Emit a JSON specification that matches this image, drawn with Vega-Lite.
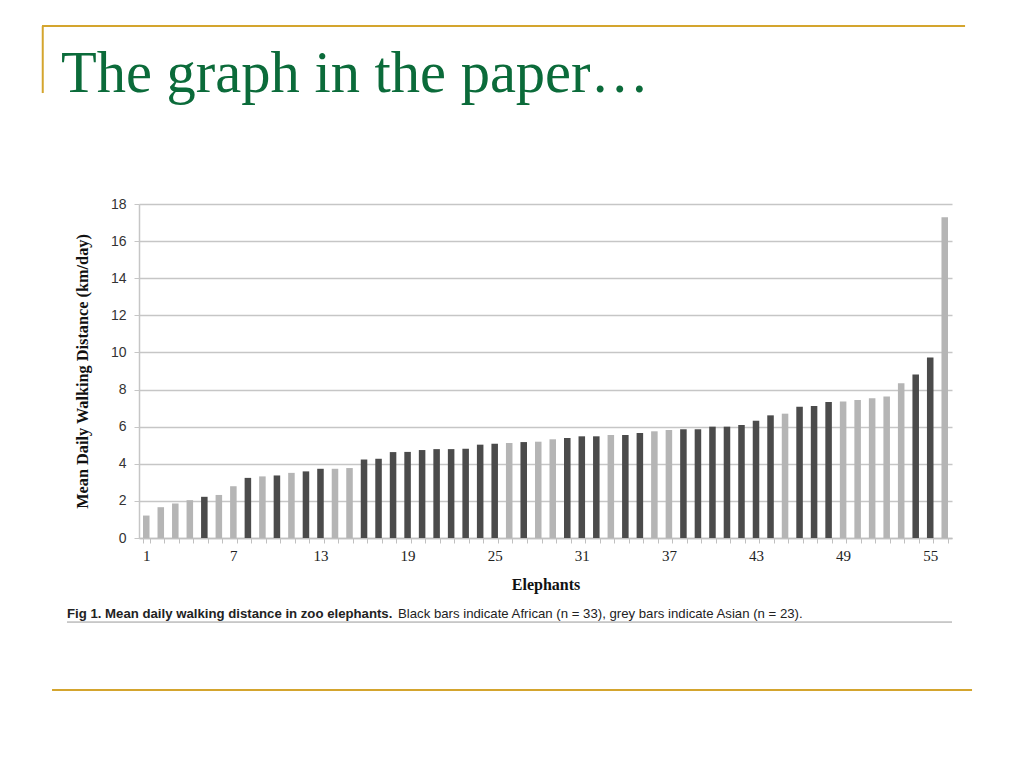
{
  "$schema": "https://vega.github.io/schema/vega-lite/v6.json",
  "width": 813,
  "height": 334,
  "autosize": {"type": "none"},
  "padding": {"left": 139, "top": 204, "right": 72, "bottom": 230},
  "background": "white",
  "config": {"view": {"stroke": null}},
  "resolve": {"scale": {"x": "independent", "y": "independent"}},
  "layer": [
    {
      "data": {
        "values": [
          {"elephant": 1, "distance": 1.21, "species": "Asian"},
          {"elephant": 2, "distance": 1.66, "species": "Asian"},
          {"elephant": 3, "distance": 1.86, "species": "Asian"},
          {"elephant": 4, "distance": 2.04, "species": "Asian"},
          {"elephant": 5, "distance": 2.22, "species": "African"},
          {"elephant": 6, "distance": 2.32, "species": "Asian"},
          {"elephant": 7, "distance": 2.79, "species": "Asian"},
          {"elephant": 8, "distance": 3.24, "species": "African"},
          {"elephant": 9, "distance": 3.32, "species": "Asian"},
          {"elephant": 10, "distance": 3.37, "species": "African"},
          {"elephant": 11, "distance": 3.51, "species": "Asian"},
          {"elephant": 12, "distance": 3.59, "species": "African"},
          {"elephant": 13, "distance": 3.73, "species": "African"},
          {"elephant": 14, "distance": 3.73, "species": "Asian"},
          {"elephant": 15, "distance": 3.77, "species": "Asian"},
          {"elephant": 16, "distance": 4.23, "species": "African"},
          {"elephant": 17, "distance": 4.27, "species": "African"},
          {"elephant": 18, "distance": 4.63, "species": "African"},
          {"elephant": 19, "distance": 4.64, "species": "African"},
          {"elephant": 20, "distance": 4.74, "species": "African"},
          {"elephant": 21, "distance": 4.79, "species": "African"},
          {"elephant": 22, "distance": 4.79, "species": "African"},
          {"elephant": 23, "distance": 4.81, "species": "African"},
          {"elephant": 24, "distance": 5.03, "species": "African"},
          {"elephant": 25, "distance": 5.08, "species": "African"},
          {"elephant": 26, "distance": 5.12, "species": "Asian"},
          {"elephant": 27, "distance": 5.17, "species": "African"},
          {"elephant": 28, "distance": 5.19, "species": "Asian"},
          {"elephant": 29, "distance": 5.32, "species": "Asian"},
          {"elephant": 30, "distance": 5.39, "species": "African"},
          {"elephant": 31, "distance": 5.48, "species": "African"},
          {"elephant": 32, "distance": 5.48, "species": "African"},
          {"elephant": 33, "distance": 5.55, "species": "Asian"},
          {"elephant": 34, "distance": 5.55, "species": "African"},
          {"elephant": 35, "distance": 5.66, "species": "African"},
          {"elephant": 36, "distance": 5.75, "species": "Asian"},
          {"elephant": 37, "distance": 5.82, "species": "Asian"},
          {"elephant": 38, "distance": 5.86, "species": "African"},
          {"elephant": 39, "distance": 5.86, "species": "African"},
          {"elephant": 40, "distance": 6.0, "species": "African"},
          {"elephant": 41, "distance": 6.0, "species": "African"},
          {"elephant": 42, "distance": 6.09, "species": "African"},
          {"elephant": 43, "distance": 6.32, "species": "African"},
          {"elephant": 44, "distance": 6.61, "species": "African"},
          {"elephant": 45, "distance": 6.7, "species": "Asian"},
          {"elephant": 46, "distance": 7.08, "species": "African"},
          {"elephant": 47, "distance": 7.12, "species": "African"},
          {"elephant": 48, "distance": 7.33, "species": "African"},
          {"elephant": 49, "distance": 7.35, "species": "Asian"},
          {"elephant": 50, "distance": 7.44, "species": "Asian"},
          {"elephant": 51, "distance": 7.53, "species": "Asian"},
          {"elephant": 52, "distance": 7.62, "species": "Asian"},
          {"elephant": 53, "distance": 8.34, "species": "Asian"},
          {"elephant": 54, "distance": 8.81, "species": "African"},
          {"elephant": 55, "distance": 9.73, "species": "African"},
          {"elephant": 56, "distance": 17.28, "species": "Asian"}
        ]
      },
      "mark": "bar",
      "encoding": {
        "x": {
          "field": "elephant",
          "type": "ordinal",
          "scale": {"paddingInner": 0.55, "paddingOuter": 0.275},
          "axis": {
            "title": "Elephants",
            "labelExpr": "(datum.value - 1) % 6 == 0 ? datum.value : ''",
            "labelAngle": 0,
            "labelOverlap": false,
            "labelFont": "Liberation Serif",
            "labelFontSize": 15,
            "labelColor": "#222",
            "labelPadding": 5,
            "tickBand": "extent",
            "tickColor": "#c0c0c0",
            "tickSize": 5,
            "domainColor": "#c0c0c0",
            "domainWidth": 1.5,
            "titleFont": "Liberation Serif",
            "titleFontWeight": "bold",
            "titleFontSize": 16,
            "titleColor": "#111",
            "titlePadding": 13
          }
        },
        "y": {
          "field": "distance",
          "type": "quantitative",
          "scale": {"domain": [0, 18], "nice": false},
          "axis": {
            "title": "Mean Daily Walking Distance (km/day)",
            "values": [0, 2, 4, 6, 8, 10, 12, 14, 16, 18],
            "gridColor": "#c6c6c6",
            "gridWidth": 1.5,
            "domainColor": "#c6c6c6",
            "domainWidth": 1.5,
            "tickColor": "#c6c6c6",
            "tickSize": 5,
            "labelFont": "Liberation Sans",
            "labelFontSize": 14,
            "labelColor": "#333",
            "labelPadding": 8,
            "titleFont": "Liberation Serif",
            "titleFontWeight": "bold",
            "titleFontSize": 16.3,
            "titleColor": "#111",
            "titlePadding": 20
          }
        },
        "color": {
          "field": "species",
          "type": "nominal",
          "scale": {"domain": ["African", "Asian"], "range": ["#4b4b4b", "#b5b5b5"]},
          "legend": null
        }
      }
    },
    {
      "data": {"values": [{}]},
      "layer": [
        {
          "mark": {"type": "rule", "color": "#d4a52e", "strokeWidth": 2},
          "encoding": {
            "x": {"datum": -6.68, "type": "quantitative", "scale": {"domain": [0, 56], "nice": false, "zero": false}, "axis": null},
            "x2": {"datum": 56.9},
            "y": {"datum": 27.59, "type": "quantitative", "scale": {"domain": [0, 18], "nice": false, "zero": false}, "axis": null}
          }
        },
        {
          "mark": {"type": "rule", "color": "#d4a52e", "strokeWidth": 2},
          "encoding": {
            "x": {"datum": -6.63, "type": "quantitative", "scale": {"domain": [0, 56], "nice": false, "zero": false}, "axis": null},
            "y": {"datum": 27.59, "type": "quantitative", "scale": {"domain": [0, 18], "nice": false, "zero": false}, "axis": null},
            "y2": {"datum": 23.98}
          }
        },
        {
          "mark": {"type": "rule", "color": "#d4a52e", "strokeWidth": 2},
          "encoding": {
            "x": {"datum": -5.99, "type": "quantitative", "scale": {"domain": [0, 56], "nice": false, "zero": false}, "axis": null},
            "x2": {"datum": 57.38},
            "y": {"datum": -8.19, "type": "quantitative", "scale": {"domain": [0, 18], "nice": false, "zero": false}, "axis": null}
          }
        },
        {
          "mark": {"type": "rule", "color": "#9a9a9a", "strokeWidth": 1},
          "encoding": {
            "x": {"datum": -4.96, "type": "quantitative", "scale": {"domain": [0, 56], "nice": false, "zero": false}, "axis": null},
            "x2": {"datum": 56.0},
            "y": {"datum": -4.53, "type": "quantitative", "scale": {"domain": [0, 18], "nice": false, "zero": false}, "axis": null}
          }
        },
        {
          "mark": {
            "type": "text",
            "text": "The graph in the paper…",
            "font": "Liberation Serif",
            "fontSize": 58.5,
            "color": "#0b6b3a",
            "align": "left",
            "baseline": "alphabetic"
          },
          "encoding": {
            "x": {"datum": -5.37, "type": "quantitative", "scale": {"domain": [0, 56], "nice": false, "zero": false}, "axis": null},
            "y": {"datum": 24.05, "type": "quantitative", "scale": {"domain": [0, 18], "nice": false, "zero": false}, "axis": null}
          }
        },
        {
          "mark": {
            "type": "text",
            "text": "Fig 1. Mean daily walking distance in zoo elephants.",
            "font": "Liberation Sans",
            "fontWeight": "bold",
            "fontSize": 13.2,
            "color": "#222",
            "align": "left",
            "baseline": "alphabetic"
          },
          "encoding": {
            "x": {"datum": -4.96, "type": "quantitative", "scale": {"domain": [0, 56], "nice": false, "zero": false}, "axis": null},
            "y": {"datum": -4.3, "type": "quantitative", "scale": {"domain": [0, 18], "nice": false, "zero": false}, "axis": null}
          }
        },
        {
          "mark": {
            "type": "text",
            "text": "Black bars indicate African (n = 33), grey bars indicate Asian (n = 23).",
            "font": "Liberation Sans",
            "fontSize": 13.2,
            "color": "#222",
            "align": "left",
            "baseline": "alphabetic"
          },
          "encoding": {
            "x": {"datum": 17.84, "type": "quantitative", "scale": {"domain": [0, 56], "nice": false, "zero": false}, "axis": null},
            "y": {"datum": -4.3, "type": "quantitative", "scale": {"domain": [0, 18], "nice": false, "zero": false}, "axis": null}
          }
        }
      ]
    }
  ]
}
